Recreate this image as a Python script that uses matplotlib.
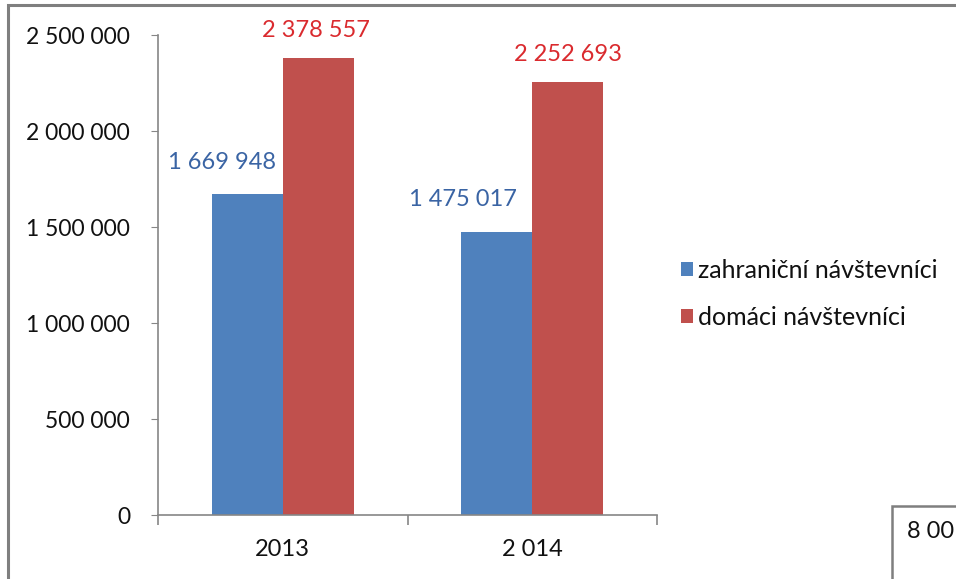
import matplotlib.pyplot as plt
import matplotlib.patches as mpatches
import numpy as np

# data
roky = ['2013', '2 014']
zahranicni = [1669948, 1475017]
domaci = [2378557, 2252693]
serie = ['zahraniční návštevníci', 'domáci návštevníci']
y_ticks = [0, 500000, 1000000, 1500000, 2000000, 2500000]

modra = '#4F81BD'
cervena = '#C0504D'
sediva = '#868686'

plt.rcParams['font.family'] = ['Lato', 'DejaVu Sans']


def fmt(v):
    return f"{v:,}".replace(',', ' ')


fig = plt.figure(figsize=(9.56, 5.79), dpi=100)
ax = fig.add_axes([158 / 956, 1 - 515 / 579, 499 / 956, 480 / 579])

x = np.arange(len(roky))
w = 0.285
b1 = ax.bar(x - w / 2, zahranicni, w, color=modra, label=serie[0])
b2 = ax.bar(x + w / 2, domaci, w, color=cervena, label=serie[1])

ax.set_xlim(-0.5, 1.5)
ax.set_ylim(0, 2500000)

# popisky hodnot (rucne posunute jako v originale)
posuny_z = [(-25, 32), (-34, 32)]
posuny_d = [(-2, 28), (0, 28)]
for i in range(len(roky)):
    ax.annotate(fmt(zahranicni[i]), (x[i] - w / 2, zahranicni[i]),
                xytext=posuny_z[i], textcoords='offset pixels',
                ha='center', va='center', fontsize=17, color='#3A64A4')
    ax.annotate(fmt(domaci[i]), (x[i] + w / 2, domaci[i]),
                xytext=posuny_d[i], textcoords='offset pixels',
                ha='center', va='center', fontsize=17, color='#DA2A2E')

for s in ['top', 'right']:
    ax.spines[s].set_visible(False)
for s in ['left', 'bottom']:
    ax.spines[s].set_color(sediva)
    ax.spines[s].set_linewidth(1.2)

ax.set_yticks(y_ticks)
ax.set_yticklabels([fmt(v) for v in y_ticks])
ax.tick_params(axis='y', direction='out', length=5, color=sediva, pad=15,
               labelsize=16.5, labelcolor='#111111')

ax.set_xticks([-0.5, 0.5, 1.5])
ax.set_xticklabels([])
ax.tick_params(axis='x', which='major', direction='out', length=7, color=sediva, width=1.2)
ax.set_xticks(x, minor=True)
ax.set_xticklabels(roky, minor=True)
ax.tick_params(axis='x', which='minor', length=0, pad=17, labelsize=17, labelcolor='#111111')

leg = fig.legend(handles=[b1, b2], loc='center left',
                 bbox_to_anchor=(658 / 956, 1 - 294 / 579), frameon=False,
                 fontsize=18, handlelength=0.5, handleheight=0.5,
                 handletextpad=0.2, labelspacing=0.95)
for t in leg.get_texts():
    t.set_color('#111111')

# ramecek grafu
fig.add_artist(mpatches.Rectangle((8 / 956, -0.5), 2, 0.5 + 1 - 5 / 579,
                                  transform=fig.transFigure, fill=False,
                                  edgecolor='#7f7f7f', linewidth=2.2))
# kus vedlejsiho grafu vpravo dole
fig.add_artist(mpatches.Rectangle((892 / 956, -0.5), 1, 0.5 + 1 - 506 / 579,
                                  transform=fig.transFigure, fill=False,
                                  edgecolor='#7f7f7f', linewidth=1.8))
fig.text(907 / 956, 1 - 532 / 579, '8 00', fontsize=17, va='center', ha='left',
         color='#111111')

fig.savefig('out.png', dpi=100)
